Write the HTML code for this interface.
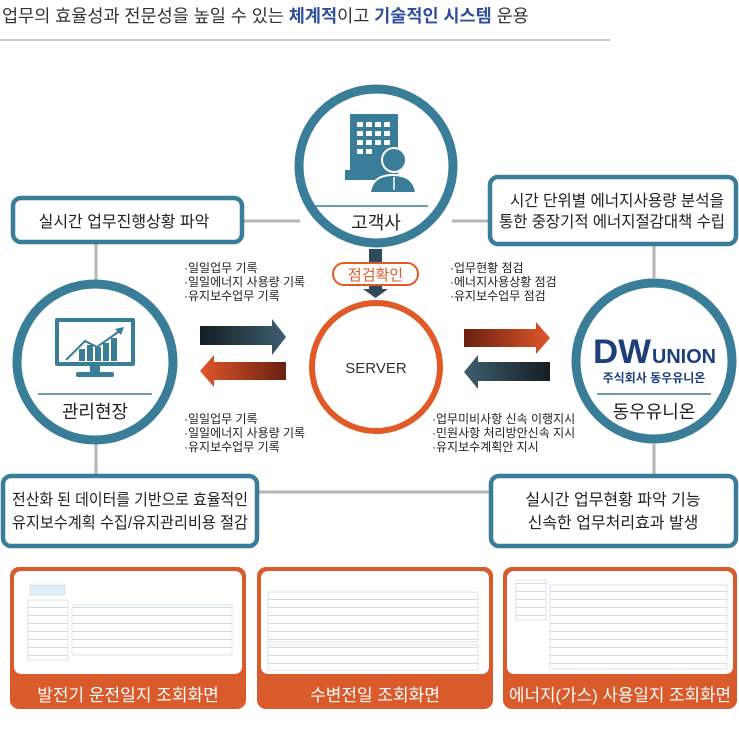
<!DOCTYPE html>
<html><head><meta charset="utf-8"><style>
body{margin:0;background:#fff;width:739px;height:742px;overflow:hidden;font-family:"Liberation Sans","Noto Sans CJK KR",sans-serif}
svg{display:block}
text{font-family:"Liberation Sans","Noto Sans CJK KR",sans-serif}
</style></head><body>
<svg width="739" height="742" viewBox="0 0 739 742" xmlns="http://www.w3.org/2000/svg">
<defs>
<linearGradient id="dk" x1="0" x2="1"><stop offset="0" stop-color="#151d23"/><stop offset="1" stop-color="#3d5f70"/></linearGradient>
<linearGradient id="dk2" x1="1" x2="0"><stop offset="0" stop-color="#151d23"/><stop offset="1" stop-color="#3d5f70"/></linearGradient>
<linearGradient id="or" x1="0" x2="1"><stop offset="0" stop-color="#6a2010"/><stop offset="1" stop-color="#e0562a"/></linearGradient>
<linearGradient id="or2" x1="1" x2="0"><stop offset="0" stop-color="#6a2010"/><stop offset="1" stop-color="#e0562a"/></linearGradient>
<pattern id="rows" width="10" height="8" patternUnits="userSpaceOnUse"><rect width="10" height="8" fill="#fff"/><line x1="0" y1="7.5" x2="10" y2="7.5" stroke="#d0dde3" stroke-width="1"/></pattern>
</defs>
<text x="2" y="22" font-size="17.5" fill="#333">업무의 효율성과 전문성을 높일 수 있는 <tspan fill="#2f4f9c" font-weight="bold">체계적</tspan>이고 <tspan fill="#2f4f9c" font-weight="bold">기술적인 시스템</tspan> 운용</text>
<line x1="0" y1="40" x2="610" y2="40" stroke="#bbb" stroke-width="1.5"/>
<g stroke="#b5b5b5" stroke-width="3">
<line x1="243" y1="221" x2="300" y2="221"/><line x1="452" y1="221" x2="490" y2="221"/>
<line x1="96" y1="243" x2="96" y2="282"/><line x1="654" y1="245" x2="654" y2="278"/>
<line x1="96" y1="442" x2="96" y2="476"/><line x1="654" y1="444" x2="654" y2="476"/>
<line x1="258" y1="492" x2="490" y2="492"/>
</g>
<g fill="#fff" stroke="#3a7d98" stroke-width="4.5">
<rect x="13" y="198" width="229" height="44" rx="8"/>
<rect x="490" y="177" width="246" height="67" rx="8"/>
<rect x="3" y="476" width="254" height="70" rx="8"/>
<rect x="491" y="476" width="245" height="70" rx="8"/>
</g>
<g font-size="16" fill="#222" text-anchor="middle">
<text x="124" y="227">실시간 업무진행상황 파악</text>
<text x="617" y="206" textLength="214" lengthAdjust="spacingAndGlyphs">시간 단위별 에너지사용량 분석을</text>
<text x="612" y="227" textLength="226" lengthAdjust="spacingAndGlyphs">통한 중장기적 에너지절감대책 수립</text>
<text x="130" y="505" textLength="236" lengthAdjust="spacingAndGlyphs">전산화 된 데이터를 기반으로 효율적인</text>
<text x="130" y="528" textLength="236" lengthAdjust="spacingAndGlyphs">유지보수계획 수집/유지관리비용 절감</text>
<text x="613" y="505">실시간 업무현황 파악 기능</text>
<text x="613" y="528">신속한 업무처리효과 발생</text>
</g>
<g fill="#fff" stroke="#3a7d98" stroke-width="9">
<circle cx="376" cy="166" r="77"/>
<circle cx="95" cy="362" r="78"/>
<circle cx="654" cy="361" r="78"/>
</g>
<circle cx="376" cy="367" r="64" fill="#fff" stroke="#e05a28" stroke-width="6"/>
<text x="376" y="373" font-size="15" fill="#333" text-anchor="middle">SERVER</text>
<line x1="315" y1="206" x2="428" y2="206" stroke="#3a7d98" stroke-width="1.5"/>
<text x="376" y="229" font-size="18" fill="#222" text-anchor="middle">고객사</text>
<rect x="350" y="114" width="48" height="66" fill="#3a7d98"/>
<rect x="345" y="170" width="10" height="10" fill="#3a7d98"/>
<g fill="#fff"><rect x="357" y="122" width="6" height="5"/><rect x="366" y="122" width="6" height="5"/><rect x="375" y="122" width="6" height="5"/><rect x="384" y="122" width="6" height="5"/>
<rect x="357" y="131" width="6" height="5"/><rect x="366" y="131" width="6" height="5"/><rect x="375" y="131" width="6" height="5"/><rect x="384" y="131" width="6" height="5"/>
<rect x="357" y="140" width="6" height="5"/><rect x="366" y="140" width="6" height="5"/><rect x="375" y="140" width="6" height="5"/><rect x="384" y="140" width="6" height="5"/>
<rect x="357" y="149" width="6" height="5"/><rect x="366" y="149" width="6" height="5"/></g>
<path d="M370 193 Q372 175 393 175 Q414 175 416 193 Z" fill="#3a7d98" stroke="#fff" stroke-width="2"/>
<circle cx="394" cy="160" r="12" fill="#3a7d98" stroke="#fff" stroke-width="2"/>
<line x1="394" y1="177" x2="394" y2="190" stroke="#fff" stroke-width="1.5"/>
<rect x="369" y="249" width="13" height="14" fill="#2f4a5a"/>
<rect x="369" y="285" width="13" height="5" fill="#2f4a5a"/>
<polygon points="363,289 388,289 375.5,298" fill="#2f4a5a"/>
<rect x="333" y="263" width="85" height="22" rx="11" fill="#fff" stroke="#e05a28" stroke-width="2"/>
<text x="375.5" y="280" font-size="15" fill="#e05a28" text-anchor="middle">점검확인</text>
<rect x="55" y="318" width="80" height="48" rx="2" fill="#3a7d98"/>
<rect x="59" y="322" width="72" height="40" fill="#fff"/>
<rect x="90" y="366" width="10" height="6" fill="#3a7d98"/>
<rect x="76" y="372" width="38" height="5" rx="2" fill="#3a7d98"/>
<g fill="#3a7d98"><rect x="79" y="349" width="6" height="12"/><rect x="87" y="345" width="6" height="16"/><rect x="95" y="347" width="6" height="14"/><rect x="103" y="343" width="6" height="18"/><rect x="111" y="338" width="6" height="23"/></g>
<polyline points="66,360 85,341 97,347 121,330" fill="none" stroke="#3a7d98" stroke-width="2"/>
<polygon points="124,327 115,329 121,335" fill="#3a7d98"/>
<line x1="38" y1="394" x2="152" y2="394" stroke="#3a7d98" stroke-width="1.5"/>
<text x="95" y="418" font-size="18" fill="#222" text-anchor="middle">관리현장</text>
<text x="593" y="363" font-size="34" font-weight="bold" fill="#1f3f7c" textLength="58" lengthAdjust="spacingAndGlyphs">DW</text>
<text x="652" y="363" font-size="20" font-weight="bold" fill="#1f3f7c" textLength="64" lengthAdjust="spacingAndGlyphs">UNION</text>
<text x="654" y="382" font-size="12" font-weight="bold" fill="#1f3f7c" text-anchor="middle">주식회사 동우유니온</text>
<line x1="597" y1="394" x2="711" y2="394" stroke="#3a7d98" stroke-width="1.5"/>
<text x="654" y="418" font-size="18" fill="#222" text-anchor="middle">동우유니온</text>
<polygon points="200,326 272,326 272,319 286,337 272,355 272,345 200,345" fill="url(#dk)"/>
<polygon points="286,362 214,362 214,355 200,371 214,387 214,380 286,380" fill="url(#or2)"/>
<polygon points="464,329 536,329 536,322 550,338 536,354 536,347 464,347" fill="url(#or)"/>
<polygon points="550,362 478,362 478,355 464,372 478,389 478,381 550,381" fill="url(#dk2)"/>
<g font-size="12" fill="#222">
<text x="184" y="272">·일일업무 기록</text><text x="184" y="286">·일일에너지 사용량 기록</text><text x="184" y="300">·유지보수업무 기록</text>
<text x="184" y="423">·일일업무 기록</text><text x="184" y="437">·일일에너지 사용량 기록</text><text x="184" y="451">·유지보수업무 기록</text>
<text x="450" y="272">·업무현황 점검</text><text x="450" y="286">·에너지사용상황 점검</text><text x="450" y="300">·유지보수업무 점검</text>
<text x="432" y="423">·업무미비사항 신속 이행지시</text><text x="432" y="437">·민원사항 처리방안신속 지시</text><text x="432" y="451">·유지보수계획안 지시</text>
</g>
<g fill="#d95a2a">
<rect x="10" y="567" width="236" height="142" rx="9"/>
<rect x="257" y="567" width="236" height="142" rx="9"/>
<rect x="503" y="567" width="234" height="142" rx="9"/>
</g>
<g fill="#fff">
<rect x="14" y="571" width="228" height="103" rx="7"/>
<rect x="261" y="571" width="228" height="103" rx="7"/>
<rect x="507" y="571" width="226" height="103" rx="7"/>
</g>
<g stroke="#c8dce4" stroke-width="0.7">
<rect x="30" y="585" width="35" height="10" fill="#dfeef4"/>
<rect x="28" y="600" width="40" height="60" fill="url(#rows)"/><rect x="72" y="605" width="160" height="50" fill="url(#rows)"/>
<rect x="268" y="592" width="210" height="50" fill="url(#rows)"/><rect x="268" y="645" width="210" height="25" fill="url(#rows)"/>
<rect x="516" y="580" width="30" height="40" fill="url(#rows)"/><rect x="550" y="585" width="177" height="84" fill="url(#rows)"/>
</g>
<g font-size="17" fill="#fff" text-anchor="middle">
<text x="128" y="701">발전기 운전일지 조회화면</text>
<text x="375" y="701">수변전일 조회화면</text>
<text x="620" y="701" textLength="222" lengthAdjust="spacingAndGlyphs">에너지(가스) 사용일지 조회화면</text>
</g>
</svg>
</body></html>
